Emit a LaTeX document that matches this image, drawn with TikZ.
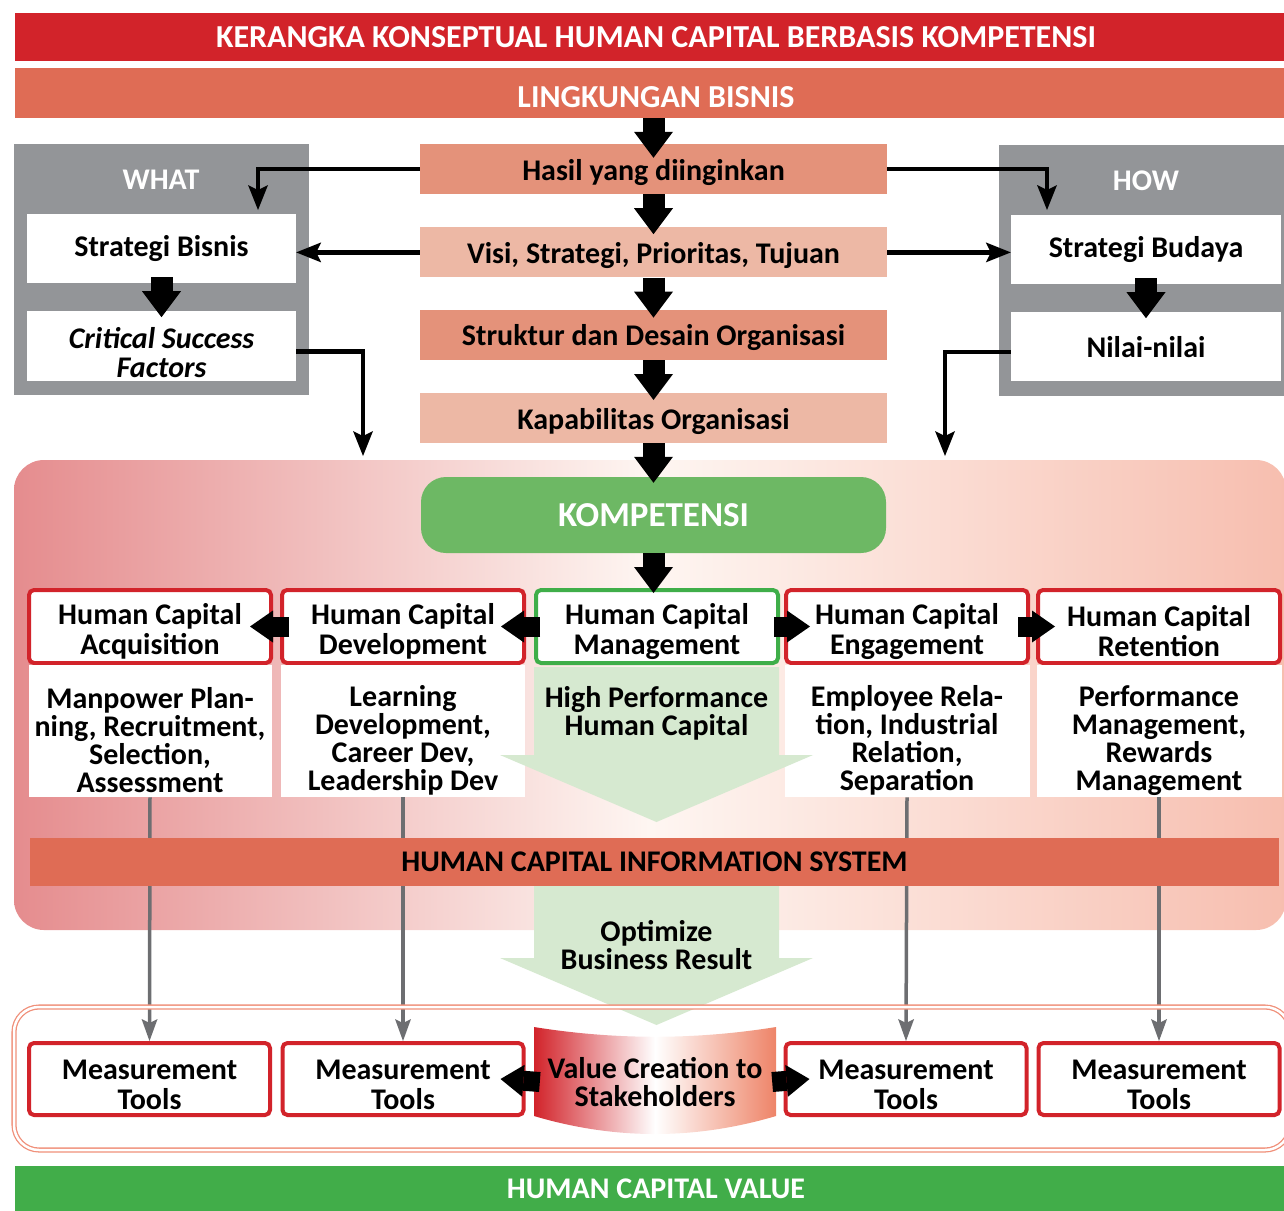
\documentclass[tikz,border=0pt]{standalone}
\usepackage{fontspec}
\setmainfont{Carlito}
\usetikzlibrary{arrows.meta,positioning,calc}
\pgfdeclarelayer{background1}
\pgfdeclarelayer{background2}
\pgfsetlayers{background2,background1,main}

\definecolor{judulmerah}{RGB}{210,35,42}
\definecolor{bata}{RGB}{223,108,85}
\definecolor{salmontua}{RGB}{228,146,122}
\definecolor{salmonmuda}{RGB}{237,184,165}
\definecolor{abu}{RGB}{147,149,152}
\definecolor{abugaris}{RGB}{109,110,113}
\definecolor{hijaukomp}{RGB}{109,184,100}
\definecolor{hijaugaris}{RGB}{63,174,73}
\definecolor{hijaumuda}{RGB}{214,233,208}
\definecolor{hijaunilai}{RGB}{65,173,73}
\definecolor{bingkai}{RGB}{240,144,122}
\definecolor{latarkiri}{RGB}{229,140,142}
\definecolor{latartengah}{RGB}{254,246,242}
\definecolor{latarkanan}{RGB}{247,190,175}
\definecolor{vckanan}{RGB}{238,132,104}

\newcommand{\sangga}{\rule{0pt}{31pt}}

\tikzset{
	pita/.style={minimum height=48pt, inner sep=0pt, font=\bfseries\fontsize{32}{34}\selectfont, text=white},
	kolom/.style={minimum width=467pt, minimum height=50pt, inner sep=0pt, text height=22pt, text depth=0pt, font=\bfseries\fontsize{30}{32}\selectfont},
	putih/.style={fill=white, inner sep=0pt, align=center, font=\bfseries\fontsize{30}{29}\selectfont},
	hc/.style={draw=judulmerah, line width=4pt, rounded corners=5pt, fill=white, minimum width=242pt, minimum height=73pt, inner sep=0pt, align=center, font=\bfseries\fontsize{30}{30}\selectfont},
	ukur/.style={hc, minimum width=241pt, minimum height=72pt},
	teks/.style={align=center, inner sep=0pt, font=\bfseries\fontsize{30}{28}\selectfont},
	blok/.style={line width=22pt, -{Triangle[width=39pt,length=26pt,line width=0pt]}},
	bloksamping/.style={line width=20pt, -{Triangle[width=32pt,length=23pt,line width=0pt]}},
	sambung/.style={line width=4.5pt, -{Stealth[width=20pt,length=25pt,inset=5pt,line width=0pt]}},
	garisabu/.style={draw=abugaris, line width=3.5pt, -{Stealth[width=16pt,length=22pt,inset=4pt,line width=0pt]}},
}

\begin{document}
\begin{tikzpicture}[x=1pt,y=-1pt]
	\useasboundingbox (0,0) rectangle (1284,1210);

	% pita judul
	\node[pita, fill=judulmerah, minimum width=1282pt] (judul) at (656,37) {KERANGKA KONSEPTUAL HUMAN CAPITAL BERBASIS KOMPETENSI};
	\node[pita, fill=bata, minimum width=1282pt, minimum height=50pt, text height=29pt, text depth=0pt] (lingkungan) at (656,93) {LINGKUNGAN BISNIS};

	% kolom tengah
	\node[kolom, fill=salmontua] (hasil) at (653.5,169) {Hasil yang diinginkan};
	\node[kolom, fill=salmonmuda, below=33pt of hasil] (visi) {Visi, Strategi, Prioritas, Tujuan};
	\node[kolom, fill=salmontua, below=32pt of visi] (struktur) {Struktur dan Desain Organisasi};
	\node[kolom, fill=salmonmuda, below=33pt of struktur] (kapabilitas) {Kapabilitas Organisasi};

	% WHAT
	\fill[abu] (14,144) rectangle (309,395);
	\node[text=white, font=\bfseries\fontsize{30}{32}\selectfont] (what) at (161,180) {WHAT};
	\node[putih, minimum width=269pt, minimum height=69pt] (bisnis) at (161.5,248.5) {Strategi Bisnis};
	\node[putih, minimum width=269pt, minimum height=70pt, below=28pt of bisnis, font=\bfseries\itshape\fontsize{30}{29}\selectfont] (csf) {\rule{0pt}{33pt}Critical Success\\Factors};

	% HOW
	\fill[abu] (999,145) rectangle (1290,396);
	\node[text=white, font=\bfseries\fontsize{30}{32}\selectfont] (how) at (1146,181) {HOW};
	\node[putih, minimum width=270pt, minimum height=69pt] (budaya) at (1146,249.5) {Strategi Budaya};
	\node[putih, minimum width=270pt, minimum height=69pt, below=28pt of budaya] (nilai) {Nilai-nilai};

	\coordinate (turunkiri) at (258,210);
	\coordinate (turunkanan) at (1047,210);
	\coordinate (masukkiri) at (363,456);
	\coordinate (masukkanan) at (945,456);

	\draw[sambung] (hasil.west) -| (turunkiri);
	\draw[sambung] (hasil.east) -| (turunkanan);
	\draw[sambung] (visi.west) -- (visi.west -| bisnis.east);
	\draw[sambung] (visi.east) -- (visi.east -| budaya.west);
	\draw[sambung] ([yshift=-5pt]csf.east) -| (masukkiri);
	\draw[sambung] ([yshift=-5pt]nilai.west) -| (masukkanan);

	% area kompetensi
	\begin{pgfonlayer}{background2}
		\shade[left color=latarkiri, right color=latarkanan, middle color=latartengah, rounded corners=30pt] (14,460) rectangle (1286,930);
	\end{pgfonlayer}
	\node[fill=hijaukomp, rounded corners=25pt, minimum width=465pt, minimum height=76pt, text=white, font=\bfseries\fontsize{35}{37}\selectfont] (kompetensi) at (653.5,515) {KOMPETENSI};

	\node[hc] (akuisisi) at (150,626.5) {\sangga Human Capital\\Acquisition};
	\node[hc, right=7pt of akuisisi] (pengembangan) {\sangga Human Capital\\Development};
	\node[hc, right=8pt of pengembangan, draw=hijaugaris] (manajemen) {\sangga Human Capital\\Management};
	\node[hc, right=4pt of manajemen] (keterlibatan) {\sangga Human Capital\\Engagement};
	\node[hc, right=6pt of keterlibatan] (retensi) {\sangga Human Capital\\Retention};

	\node[putih, minimum width=243pt, minimum height=132pt, below=0pt of akuisisi] (kotak1) {};
	\node[putih, minimum width=244pt, minimum height=132pt, below=0pt of pengembangan] (kotak2) {};
	\node[putih, minimum width=245pt, minimum height=132pt, below=0pt of keterlibatan] (kotak4) {};
	\node[putih, minimum width=245pt, minimum height=132pt, below=0pt of retensi] (kotak5) {};
	\node[teks] (isi1) at ([yshift=-9pt]kotak1) {Manpower Plan-\\ning, Recruitment,\\Selection,\\Assessment};
	\node[teks] (isi2) at ([yshift=-9pt]kotak2) {Learning\\Development,\\Career Dev,\\Leadership Dev};
	\node[teks] (isi4) at ([yshift=-9pt]kotak4) {Employee Rela-\\tion, Industrial\\Relation,\\Separation};
	\node[teks] (isi5) at ([yshift=-9pt]kotak5) {Performance\\Management,\\Rewards\\Management};

	% panah hijau
	\fill[hijaumuda] (534,667) -- (779,667) -- (779,755) -- (813,755) -- (656.5,822) -- (500,755) -- (534,755) -- cycle;
	\node[teks] (kinerja) at (656.5,713) {High Performance\\Human Capital};
	\fill[hijaumuda] (534,886) -- (779,886) -- (779,958) -- (813,958) -- (656.5,1025) -- (500,958) -- (534,958) -- cycle;
	\node[teks] (optimasi) at (656.5,945) {Optimize\\Business Result};

	\node[pita, fill=bata, text=black, minimum width=1249pt, font=\bfseries\fontsize{30}{32}\selectfont] (hcis) at (654.5,862) {HUMAN CAPITAL INFORMATION SYSTEM};

	% bingkai bawah
	\draw[bingkai, double=white, double distance=2.5pt, line width=1.3pt, rounded corners=25pt] (14,1007) rectangle (1290,1150);

	\node[ukur] (ukur1) at (149.5,1079) {\sangga Measurement\\Tools};
	\node[ukur] (ukur2) at (403,1079) {\sangga Measurement\\Tools};
	\node[ukur] (ukur3) at (906,1079) {\sangga Measurement\\Tools};
	\node[ukur] (ukur4) at (1159,1079) {\sangga Measurement\\Tools};

	\shade[left color=judulmerah, right color=vckanan, middle color=white]
		(534,1027) .. controls (615,1040) and (695,1040) .. (776,1027) -- (776,1116) .. controls (695,1140) and (615,1140) .. (534,1116) -- cycle;
	\node[teks, minimum width=242pt, minimum height=91pt] (nilaitambah) at (655,1082) {Value Creation to\\Stakeholders};

	\begin{pgfonlayer}{background1}
		\draw[garisabu] (kotak1.south) -- (ukur1.north);
		\draw[garisabu] (kotak2.south) -- (ukur2.north);
		\draw[garisabu] (kotak4.south) -- (ukur3.north);
		\draw[garisabu] (kotak5.south) -- (ukur4.north);
	\end{pgfonlayer}

	\node[pita, fill=hijaunilai, minimum width=1282pt, minimum height=46pt, font=\bfseries\fontsize{30}{32}\selectfont] (hcvalue) at (656,1189) {HUMAN CAPITAL VALUE};

	% panah blok
	\draw[blok] (lingkungan.south -| hasil.north) -- ([yshift=-14pt]hasil.north);
	\draw[blok] (hasil.south) -- ([yshift=-7pt]visi.north);
	\draw[blok] (visi.south) -- ([yshift=-8pt]struktur.north);
	\draw[blok] (struktur.south) -- ([yshift=-7pt]kapabilitas.north);
	\draw[blok] (kapabilitas.south) -- ([yshift=-6pt]kompetensi.north);
	\draw[blok] (kompetensi.south) -- ([yshift=-5pt]kompetensi.south |- manajemen.north);
	\draw[blok] ([yshift=6pt]bisnis.south) -- ([yshift=-6pt]csf.north);
	\draw[blok] ([yshift=6pt]budaya.south) -- ([yshift=-6pt]nilai.north);

	\draw[bloksamping] ([xshift=6pt]manajemen.west) -- ([xshift=-25pt]pengembangan.east);
	\draw[bloksamping] ([xshift=9pt]pengembangan.west) -- ([xshift=-23pt]akuisisi.east);
	\draw[bloksamping] ([xshift=-6pt]manajemen.east) -- ([xshift=26pt]keterlibatan.west);
	\draw[bloksamping] ([xshift=-12pt]keterlibatan.east) -- ([xshift=19pt]retensi.west);
	\draw[bloksamping] ([xshift=6pt]nilaitambah.west) -- ([xshift=-25pt]ukur2.east);
	\draw[bloksamping] ([xshift=-4pt]nilaitambah.east) -- ([xshift=26pt]ukur3.west);

\end{tikzpicture}
\end{document}
